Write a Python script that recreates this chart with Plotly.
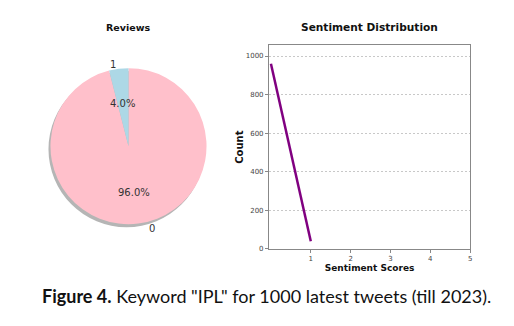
import math
import plotly.graph_objects as go

# ---- data ----
sentiment_labels = ["0", "1"]
sentiment_scores = [0, 1]
sentiment_counts = [960, 40]
x_ticks = [1, 2, 3, 4, 5]
y_ticks = [0, 200, 400, 600, 800, 1000]
caption_bold = "Figure 4."
caption_rest = ' Keyword "IPL" for 1000 latest tweets (till 2023).'

W, H = 514, 326
fig = go.Figure()

# pie geometry (pixels)
cx, cy, r = 129, 148, 79
def dom_x(c, rad):
    return [(c - rad) / W, (c + rad) / W]
def dom_y(c, rad):
    return [1 - (c + rad) / H, 1 - (c - rad) / H]

# shadow
fig.add_trace(go.Pie(values=[1], labels=["shadow"], marker=dict(colors=["#b5b5b5"], line=dict(width=0)),
                     textinfo="none", hoverinfo="skip", showlegend=False, sort=False,
                     domain=dict(x=[d - 2 / W for d in dom_x(cx, r)], y=[d - 3 / H for d in dom_y(cy, r)])))
fig.add_trace(go.Pie(values=sentiment_counts, labels=sentiment_labels,
                     marker=dict(colors=["#ffc0cb", "#add8e6"], line=dict(width=0)),
                     direction="clockwise", rotation=0, sort=False, textinfo="none",
                     showlegend=False, domain=dict(x=dom_x(cx, r), y=dom_y(cy, r))))

# pie text derived from data
total = sum(sentiment_counts)
start = 0.0
for lab, v in zip(sentiment_labels, sentiment_counts):
    frac = v / total
    mid = math.radians((start + frac / 2) * 360)
    start += frac
    s, c = math.sin(mid), math.cos(mid)
    px, py = cx + 0.6 * r * s, cy - 0.6 * r * c
    fig.add_annotation(x=px / W, y=1 - py / H, xref="paper", yref="paper", showarrow=False,
                       xanchor="center", yanchor="middle", yshift=-4 if c > 0 else 0,
                       text=f"{frac*100:.1f}%", font=dict(family="DejaVu Sans", size=10, color="#333"))
    lx, ly = cx + 1.1 * r * s, cy - 1.1 * r * c
    fig.add_annotation(x=lx / W, y=1 - ly / H, xref="paper", yref="paper", showarrow=False,
                       xanchor="left" if s > 0 else "right", yanchor="middle",
                       xshift=8 if s > 0 else 0, yshift=-3 if c > 0 else 3,
                       text=lab, font=dict(family="DejaVu Sans", size=10, color="#333"))

fig.add_annotation(x=cx / W, y=1 - 28 / H, xref="paper", yref="paper", showarrow=False,
                   xanchor="center", yanchor="middle",
                   text="<b>Reviews</b>", font=dict(family="DejaVu Sans", size=9.5, color="#111"))

# line chart
fig.add_trace(go.Scatter(x=sentiment_scores, y=sentiment_counts, mode="lines",
                         line=dict(color="#800080", width=2.5), showlegend=False,
                         xaxis="x", yaxis="y"))

axis_common = dict(showline=True, linecolor="#888", linewidth=1, mirror=True,
                   ticks="outside", ticklen=3, tickcolor="#888",
                   tickfont=dict(family="DejaVu Sans", size=7, color="#444"), zeroline=False)
fig.update_layout(
    xaxis=dict(domain=[270 / W, 472 / W], range=[-0.05, 5], tickvals=x_ticks, showgrid=False,
               title=dict(text="<b>Sentiment Scores</b>", font=dict(family="DejaVu Sans", size=9, color="#111"),
                          standoff=2), anchor="y", **axis_common),
    yaxis=dict(domain=[1 - 252 / H, 1 - 46 / H], range=[0, 1055], tickvals=y_ticks,
               showgrid=True, gridcolor="#c8c8c8", griddash="2px,2px", gridwidth=1,
               title=dict(text="<b>Count</b>", font=dict(family="DejaVu Sans", size=10, color="#111"),
                          standoff=0), anchor="x", **axis_common),
)
fig.add_annotation(x=371 / W, y=1 - 27 / H, xref="paper", yref="paper", showarrow=False,
                   xanchor="center", yanchor="middle",
                   text="<b>Sentiment Distribution</b>", font=dict(family="DejaVu Sans", size=10.6, color="#111"))

# caption
fig.add_annotation(x=0.52, y=1 - 300 / H, xref="paper", yref="paper", showarrow=False,
                   xanchor="center", yanchor="middle",
                   text=f"<b>{caption_bold}</b>{caption_rest}",
                   font=dict(family="Lato", size=18, color="#111"))

fig.update_layout(width=W, height=H, margin=dict(l=0, r=0, t=0, b=0),
                  paper_bgcolor="white", plot_bgcolor="white")
fig.write_html("out.html")
